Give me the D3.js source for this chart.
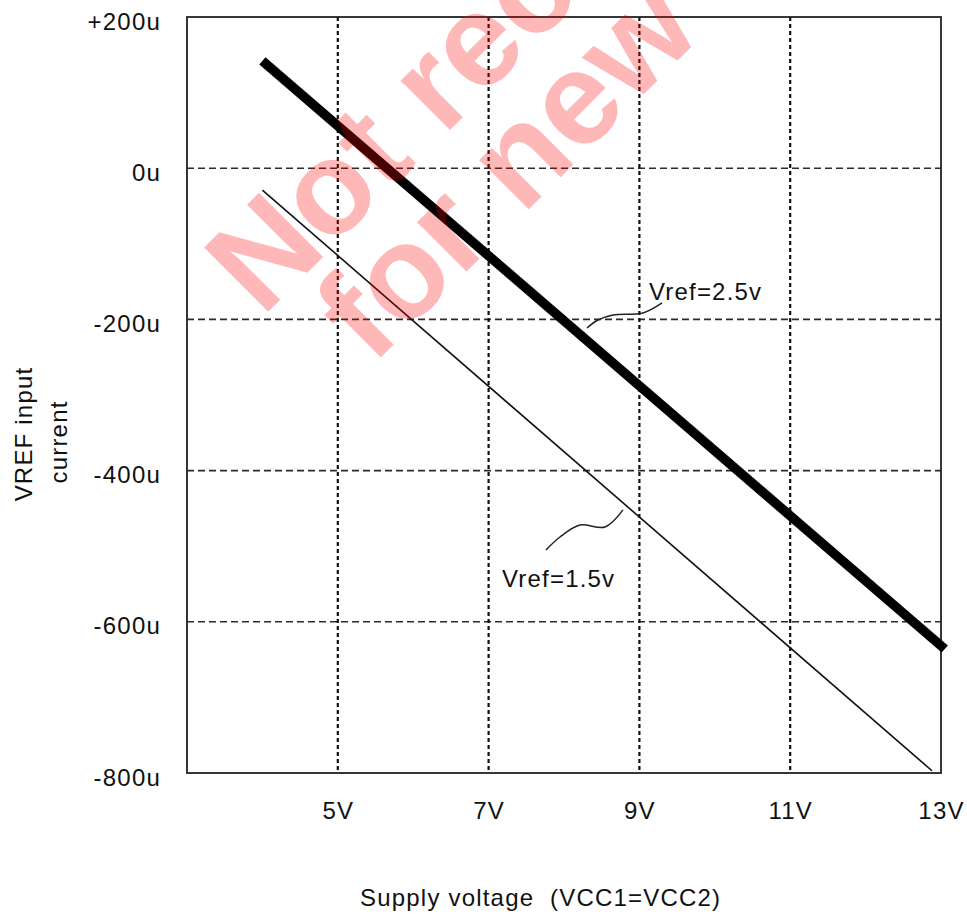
<!DOCTYPE html>
<html>
<head>
<meta charset="utf-8">
<script src="https://cdn.jsdelivr.net/npm/d3@7"></script>
<style>
  html, body { margin: 0; padding: 0; background: #fff; }
  svg { display: block; }
  text { font-family: "Liberation Sans", Arial, sans-serif; fill: #111; }
</style>
</head>
<body>
<svg id="chart" width="967" height="914"></svg>
<script>
// ---- data ----
const xTickValues = [5, 7, 9, 11, 13];
const xTickLabels = ["5V", "7V", "9V", "11V", "13V"];
const yTickValues = [200, 0, -200, -400, -600, -800];
const yTickLabels = ["+200u", "0u", "-200u", "-400u", "-600u", "-800u"];
const xGridValues = [5, 7, 9, 11];
const yGridValues = [0, -200, -400, -600];

const supplyVref25 = [4, 13.05];
const currentVref25 = [142, -636];
const supplyVref15 = [4, 12.88];
const currentVref15 = [-29, -797];

const seriesNames = ["Vref=2.5v", "Vref=1.5v"];
const leader25V = [8.305, 8.451, 8.650, 9.048, 9.300];
const leader25I = [-211.4, -200.8, -194.2, -191.5, -178.3];
const leader15V = [7.761, 7.947, 8.212, 8.544, 8.782];
const leader15I = [-505, -487.8, -472, -474.6, -452];
const labelPosV = [9.127, 7.178];
const labelPosI = [-174.3, -554];

const xTitle = "Supply voltage\u00a0 (VCC1=VCC2)";
const yTitleLines = ["VREF input", "current"];
const watermarkLines = ["Not recommended", "for new designs"];

// ---- layout ----
const svg = d3.select("#chart");
const x = d3.scaleLinear().domain([3, 13]).range([187, 941]);
const y = d3.scaleLinear().domain([200, -800]).range([17, 773]);

// grid
svg.append("g").selectAll("line").data(yGridValues).join("line")
  .attr("x1", x(3)).attr("x2", x(13))
  .attr("y1", d => y(d)).attr("y2", d => y(d))
  .attr("stroke", "#2a2a2a").attr("stroke-width", 1.6)
  .attr("stroke-dasharray", "7,4");

svg.append("g").selectAll("line").data(xGridValues).join("line")
  .attr("x1", d => x(d)).attr("x2", d => x(d))
  .attr("y1", y(200)).attr("y2", y(-800))
  .attr("stroke", "#111").attr("stroke-width", 2.2)
  .attr("stroke-dasharray", "4,3");

// frame
svg.append("rect")
  .attr("x", x(3)).attr("y", y(200))
  .attr("width", x(13) - x(3)).attr("height", y(-800) - y(200))
  .attr("fill", "none").attr("stroke", "#222").attr("stroke-width", 1.8);

// axes (labels only)
const yAxis = d3.axisLeft(y).tickValues(yTickValues)
  .tickFormat((d, i) => yTickLabels[i]).tickSize(0).tickPadding(26);
const gy = svg.append("g").attr("transform", `translate(${x(3)},0)`).call(yAxis);
gy.select(".domain").remove();
gy.selectAll("text").attr("dy", "0.5em")
  .style("font-size", "24px").style("letter-spacing", "1.2px")
  .style("font-family", '"Liberation Sans", Arial, sans-serif').attr("fill", "#111");

const xAxis = d3.axisBottom(x).tickValues(xTickValues)
  .tickFormat((d, i) => xTickLabels[i]).tickSize(0).tickPadding(29);
const gx = svg.append("g").attr("transform", `translate(0,${y(-800)})`).call(xAxis);
gx.select(".domain").remove();
gx.selectAll("text")
  .style("font-size", "24px").style("letter-spacing", "1.2px")
  .style("font-family", '"Liberation Sans", Arial, sans-serif').attr("fill", "#111");

// series lines
const line = d3.line().x(d => x(d[0])).y(d => y(d[1]));
const s25 = supplyVref25.map((v, i) => [v, currentVref25[i]]);
const s15 = supplyVref15.map((v, i) => [v, currentVref15[i]]);

svg.append("path").datum(s15).attr("d", line)
  .attr("fill", "none").attr("stroke", "#111").attr("stroke-width", 1.6);
svg.append("path").datum(s25).attr("d", line)
  .attr("fill", "none").attr("stroke", "#000").attr("stroke-width", 9.5)
  .attr("stroke-linecap", "butt");

// annotations
const curveLine = d3.line().x(d => x(d[0])).y(d => y(d[1])).curve(d3.curveCatmullRom);
[[leader25V, leader25I], [leader15V, leader15I]].forEach(([vs, is]) => {
  svg.append("path").datum(vs.map((v, i) => [v, is[i]])).attr("d", curveLine)
    .attr("fill", "none").attr("stroke", "#222").attr("stroke-width", 1.5);
});
seriesNames.forEach((name, i) => {
  svg.append("text").attr("x", x(labelPosV[i])).attr("y", y(labelPosI[i]))
    .style("font-size", "24px").style("letter-spacing", "1.2px").text(name);
});

// axis titles
svg.append("text").attr("x", 360).attr("y", 906)
  .style("font-size", "24px").style("letter-spacing", "1.2px").text(xTitle);

svg.append("text").attr("transform", "translate(32,434) rotate(-90)")
  .attr("text-anchor", "middle")
  .style("font-size", "24px").style("letter-spacing", "1.2px").text(yTitleLines[0]);
svg.append("text").attr("transform", "translate(67,442) rotate(-90)")
  .attr("text-anchor", "middle")
  .style("font-size", "24px").style("letter-spacing", "1.2px").text(yTitleLines[1]);

// watermark
const wm = svg.append("g").attr("pointer-events", "none");
[[262, 318], [372, 366]].forEach((p, i) => {
  wm.append("text").attr("transform", `translate(${p[0]},${p[1]}) rotate(-45)`)
    .style("font-size", "132px").style("font-weight", "bold")
    .style("fill", "#ff0000").style("fill-opacity", 0.28)
    .text(watermarkLines[i]);
});
</script>
</body>
</html>
